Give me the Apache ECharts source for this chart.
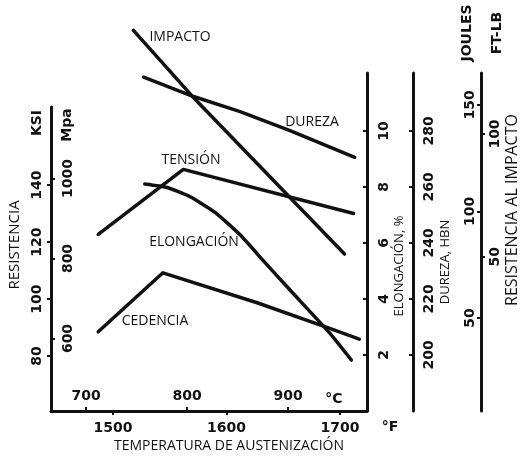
<!DOCTYPE html>
<html>
<head>
<meta charset="utf-8">
<script src="https://cdn.jsdelivr.net/npm/echarts@6/dist/echarts.min.js"></script>
<style>
  html, body { margin: 0; padding: 0; background: #ffffff; }
  #chart { width: 522px; height: 456px; }
</style>
</head>
<body>
<div id="chart"></div>
<script>
// Austenitizing temperature (°F) and property readings for each curve
const impactoTempF = [1518, 1570, 1704];
const impactoJoules = [185, 154, 80];

const durezaTempF = [1527, 1571, 1612, 1656, 1713];
const durezaHBN = [299.2, 292.3, 286.9, 280.1, 270.6];

const tensionTempF = [1487, 1562, 1712];
const tensionKsi = [122.7, 145.5, 130.0];

const elongacionTempF = [1528, 1547, 1568, 1591, 1612, 1632, 1656, 1691, 1710];
const elongacionPct = [8.11, 7.99, 7.65, 7.06, 6.29, 5.39, 4.32, 2.78, 1.82];

const cedenciaTempF = [1487, 1544, 1627, 1691, 1717];
const cedenciaKsi = [88.5, 109.2, 98.7, 89.7, 85.9];

// Tick labels of every scale
const ticksF = [1500, 1600, 1700];
const ticksC = [700, 800, 900];
const ticksKsi = [80, 100, 120, 140];
const ticksMpa = [600, 800, 1000];
const ticksElong = [2, 4, 6, 8, 10];
const ticksHBN = [200, 220, 240, 260, 280];
const ticksJoules = [50, 100, 150];
const ticksFtLb = [50, 100];

const numFont = 'DejaVu Sans';
const textFont = 'Open Sans';
const black = '#111111';

function pairs(xs, ys) { return xs.map((x, i) => [x, ys[i]]); }

const numLabel = (extra) => Object.assign({
  color: black, fontFamily: numFont, fontWeight: 'bold', fontSize: 14,
  formatter: (v) => String(v)
}, extra || {});

const axisLine = { show: true, onZero: false, lineStyle: { color: black, width: 3 } };
const tick = (values, inside) => ({
  show: true, inside: !!inside, customValues: values, length: 4,
  lineStyle: { color: black, width: 2 }
});

const F_MIN = 1445.4, F_MAX = 1723.8;

const option = {
  backgroundColor: '#ffffff',
  animation: false,
  grid: [
    // strength scales (KSI / MPa)
    { left: 51, top: 107, width: 316, height: 304 },
    // elongation, hardness and impact scales
    { left: 51, top: 73, width: 316, height: 338 }
  ],
  xAxis: [
    {
      gridIndex: 0, type: 'value', min: F_MIN, max: F_MAX, position: 'bottom',
      axisLine: axisLine,
      axisTick: tick(ticksF),
      axisLabel: numLabel({ customValues: ticksF, margin: 10 }),
      splitLine: { show: false }
    },
    {
      gridIndex: 0, type: 'value', min: 665.3, max: 978.2, position: 'bottom',
      axisLine: { show: false, onZero: false },
      axisTick: tick(ticksC, true),
      axisLabel: numLabel({ inside: true, customValues: ticksC, margin: 8 }),
      splitLine: { show: false }
    },
    {
      gridIndex: 1, type: 'value', min: F_MIN, max: F_MAX, show: false
    }
  ],
  yAxis: [
    {
      // KSI
      gridIndex: 0, type: 'value', min: 60.7, max: 167.4, position: 'left',
      axisLine: axisLine,
      axisTick: tick(ticksKsi),
      axisLabel: numLabel({ customValues: ticksKsi, rotate: 90, margin: 7 }),
      splitLine: { show: false }
    },
    {
      // MPa
      gridIndex: 0, type: 'value', min: 418.75, max: 1178.75, position: 'left',
      axisLine: { show: false, onZero: false },
      axisTick: tick(ticksMpa, true),
      axisLabel: numLabel({ inside: true, customValues: ticksMpa, rotate: 90, margin: 10 }),
      splitLine: { show: false }
    },
    {
      // Elongation %
      gridIndex: 1, type: 'value', min: 0, max: 12.07, position: 'right', offset: 0,
      axisLine: axisLine,
      axisTick: tick(ticksElong, true),
      axisLabel: numLabel({ customValues: ticksElong, rotate: 90, margin: 10 }),
      splitLine: { show: false }
    },
    {
      // Hardness HBN
      gridIndex: 1, type: 'value', min: 180, max: 300.7, position: 'right', offset: 46,
      axisLine: axisLine,
      axisTick: tick(ticksHBN, true),
      axisLabel: numLabel({ customValues: ticksHBN, rotate: 90, margin: 9 }),
      splitLine: { show: false }
    },
    {
      // Impact, joules
      gridIndex: 1, type: 'value', min: 6.34, max: 165.0, position: 'right', offset: 114,
      axisLine: axisLine,
      axisTick: tick(ticksJoules, true),
      axisLabel: numLabel({ inside: true, customValues: ticksJoules, rotate: 90, margin: 4 }),
      splitLine: { show: false }
    },
    {
      // Impact, ft-lb
      gridIndex: 1, type: 'value', min: -12.88, max: 124.86, position: 'right', offset: 114,
      axisLine: { show: false, onZero: false },
      axisTick: tick(ticksFtLb),
      axisLabel: numLabel({ customValues: ticksFtLb, rotate: 90, margin: 7 }),
      splitLine: { show: false }
    }
  ],
  series: [
    { name: 'IMPACTO', type: 'line', xAxisIndex: 2, yAxisIndex: 4, data: pairs(impactoTempF, impactoJoules) },
    { name: 'DUREZA', type: 'line', xAxisIndex: 2, yAxisIndex: 3, data: pairs(durezaTempF, durezaHBN) },
    { name: 'TENSIÓN', type: 'line', xAxisIndex: 0, yAxisIndex: 0, data: pairs(tensionTempF, tensionKsi) },
    { name: 'ELONGACIÓN', type: 'line', xAxisIndex: 2, yAxisIndex: 2, data: pairs(elongacionTempF, elongacionPct), smooth: 0.15 },
    { name: 'CEDENCIA', type: 'line', xAxisIndex: 0, yAxisIndex: 0, data: pairs(cedenciaTempF, cedenciaKsi) }
  ].map(s => Object.assign({
    showSymbol: false, symbol: 'none', clip: false,
    lineStyle: { color: black, width: 3.5, cap: 'round', join: 'round' }
  }, s)),
  graphic: []
};

// Curve names and axis titles
const txt = (text, x, y, opts) => Object.assign({
  type: 'text', x: x, y: y, silent: true,
  style: Object.assign({
    text: text, fill: black, font: '14px "' + textFont + '"',
    align: 'center', verticalAlign: 'middle'
  }, (opts && opts.style) || {})
}, opts && opts.rotation !== undefined ? { rotation: opts.rotation } : {});

const bold = 'bold 14px "' + numFont + '"';
const V = Math.PI / 2;

option.graphic = [
  txt('IMPACTO', 180, 37),
  txt('DUREZA', 312, 122),
  txt('TENSIÓN', 191, 160),
  txt('ELONGACIÓN', 194, 242),
  txt('CEDENCIA', 155, 321),
  txt('TEMPERATURA DE AUSTENIZACIÓN', 229, 446),
  txt('RESISTENCIA', 15, 245, { rotation: V, style: { font: '15px "' + textFont + '"' } }),
  txt('KSI', 37, 123, { rotation: V, style: { font: bold } }),
  txt('Mpa', 67, 125, { rotation: V, style: { font: bold } }),
  txt('ELONGACIÓN, %', 399, 266, { rotation: V, style: { font: '13px "' + textFont + '"' } }),
  txt('DUREZA, HBN', 445, 262, { rotation: V, style: { font: '13px "' + textFont + '"' } }),
  txt('RESISTENCIA AL IMPACTO', 512, 210, { rotation: V, style: { font: '16px "' + textFont + '"' } }),
  txt('JOULES', 467, 33, { rotation: V, style: { font: bold } }),
  txt('FT-LB', 497, 33, { rotation: V, style: { font: bold } }),
  txt('°C', 334, 399, { style: { font: bold } }),
  txt('°F', 390, 427, { style: { font: bold } })
];

const chart = echarts.init(document.getElementById('chart'), null, { renderer: 'canvas' });
chart.setOption(option);
</script>
</body>
</html>
